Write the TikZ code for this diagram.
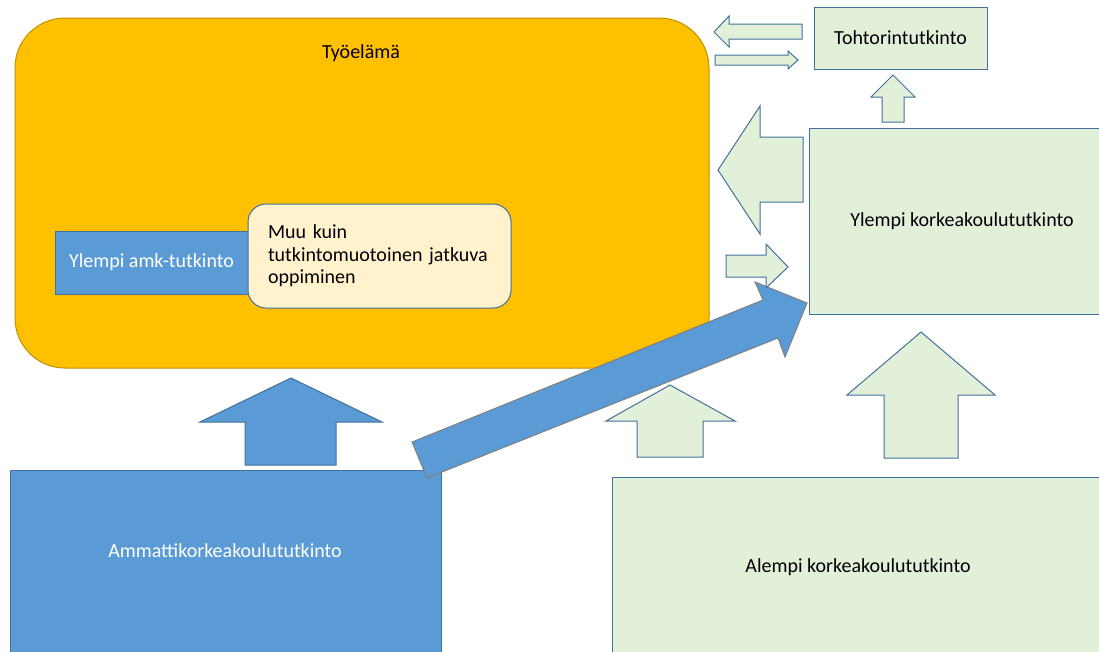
\documentclass[tikz,border=0pt]{standalone}
\usepackage{fontspec}
\setmainfont{Carlito}
\usepackage{tikz}
\usetikzlibrary{positioning}
\definecolor{workgold}{HTML}{FFC000}
\definecolor{workedge}{HTML}{BF9000}
\definecolor{amkblue}{HTML}{5B9BD5}
\definecolor{blueedge}{HTML}{41719C}
\definecolor{unigreen}{HTML}{E2F0D9}
\definecolor{notecream}{HTML}{FFF2CC}
\definecolor{diagedge}{HTML}{7F7F7F}

\begin{document}
\begin{tikzpicture}[x=1pt,y=-1pt]
      \tikzstyle{every node}=[font=\fontsize{20}{22.4}\selectfont,inner sep=0pt,outer sep=0pt]
      \tikzstyle{workbox}=[draw=workedge,fill=workgold,line width=1pt,rounded corners=50pt]
      \tikzstyle{amkbox}=[draw=blueedge,fill=amkblue,line width=1pt,text=white]
      \tikzstyle{unibox}=[draw=blueedge,fill=unigreen,line width=1pt]
      \tikzstyle{notebox}=[draw=blueedge,fill=notecream,line width=1pt,rounded corners=18pt]
      \tikzstyle{amkarrow}=[draw=blueedge,fill=amkblue,line width=1pt]
      \tikzstyle{uniarrow}=[draw=blueedge,fill=unigreen,line width=1pt]
      \useasboundingbox (0,0) rectangle (1099,651);
      \clip (0,0) rectangle (1099,651);
      % tyoelama
      \node[workbox,minimum width=694,minimum height=350] (tyoelama) at (362,193) {};
      \node (tyoelamatext) at (361,53) {Työelämä};
      \node[amkbox,minimum width=193,minimum height=63] (ylempiamk) at (151.5,262.5) {Ylempi amk-tutkinto};
      \node[notebox,minimum width=263,minimum height=104,text width=223,inner xsep=20pt,align=left] (muu) at (379.5,256)
        {Muu kuin\\tutkintomuotoinen jatkuva\\oppiminen};
      % tutkinnot
      \node[amkbox,minimum width=431,minimum height=200] (amk) at (225.5,570) {};
      \node[text=white] (amktext) at (225,551) {Ammattikorkeakoulututkinto};
      \node[unibox,minimum width=498,minimum height=190] (alempi) at (861,572) {};
      \node (alempitext) at (858,567) {Alempi korkeakoulututkinto};
      \node[unibox,minimum width=306,minimum height=186] (ylempi) at (962,221) {Ylempi korkeakoulututkinto};
      \node[unibox,minimum width=173,minimum height=62] (tohtori) at (900.5,38) {Tohtorintutkinto};
      % nuolet
      \draw[amkarrow] (291,378) -- (382,422) -- (336,422) -- (336,465) -- (245,465) -- (245,422) -- (200,422) -- cycle;
      \draw[uniarrow] (670,385) -- (735,421) -- (703,421) -- (703,457) -- (637,457) -- (637,421) -- (606,421) -- cycle;
      \draw[uniarrow] (921,332) -- (995,395) -- (958,395) -- (958,458) -- (884,458) -- (884,395) -- (847,395) -- cycle;
      \draw[uniarrow] (893,75) -- (915,97) -- (904,97) -- (904,122) -- (882,122) -- (882,97) -- (871,97) -- cycle;
      \draw[uniarrow] (714,32) -- (729,16) -- (729,24) -- (802,24) -- (802,39) -- (729,39) -- (729,47) -- cycle;
      \draw[uniarrow] (798,60) -- (788,51) -- (788,55) -- (715,55) -- (715,65) -- (788,65) -- (788,69) -- cycle;
      \draw[uniarrow] (718,170) -- (760,106) -- (760,137) -- (803,137) -- (803,202) -- (760,202) -- (760,234) -- cycle;
      \draw[amkarrow,draw=diagedge] (412,442) -- (763,300) -- (755,282) -- (807,303) -- (785,357) -- (778,338) -- (427,478) -- cycle;
      \draw[uniarrow] (788,267) -- (766,244) -- (766,255) -- (726,255) -- (726,277) -- (766,277) -- (766,288) -- cycle;
\end{tikzpicture}
\end{document}
